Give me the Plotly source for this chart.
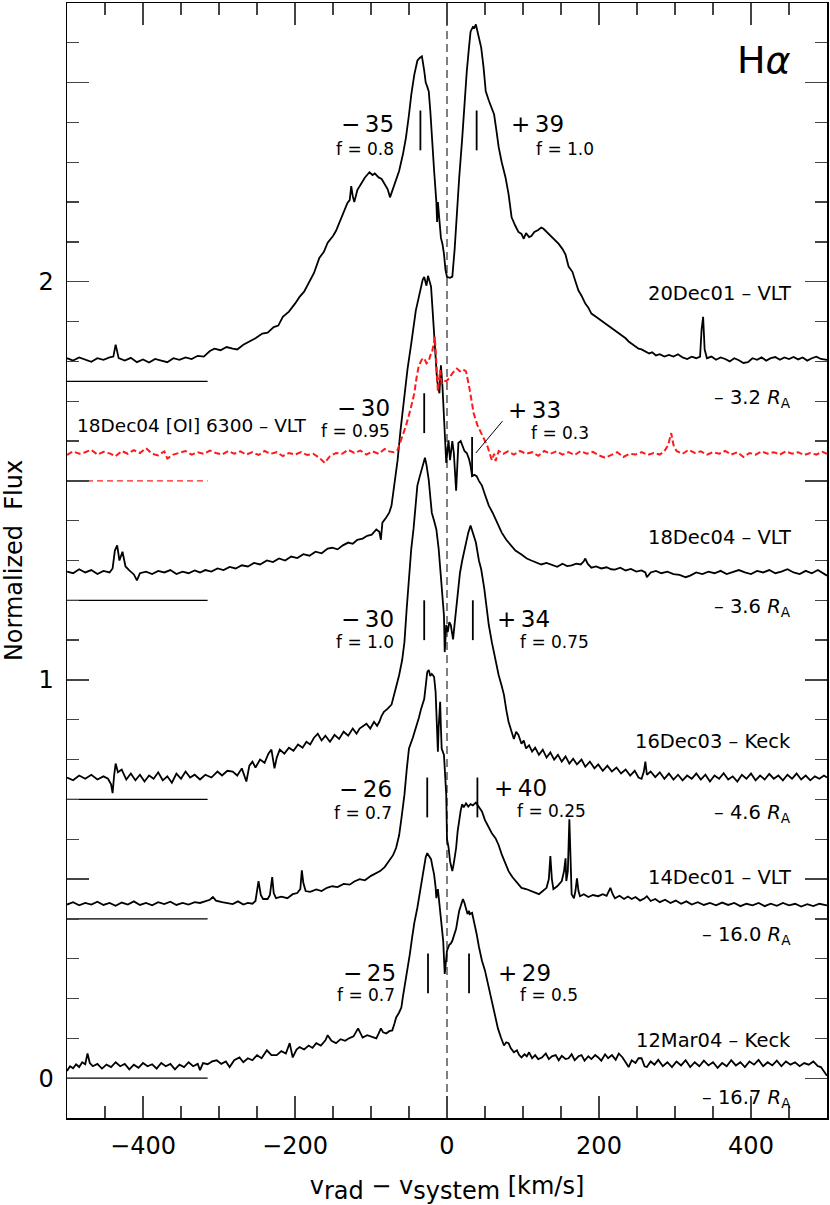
import plotly.graph_objects as go

# ---------------- data (velocity km/s, normalized flux incl. offset) ----------------
spec_20dec01 = [(-500,1.808),(-492,1.802),(-484,1.810),(-476,1.804),(-468,1.799),(-460,1.808),(-452,1.804),(-444,1.810),(-439,1.812),(-436,1.842),(-432,1.808),(-424,1.802),(-416,1.809),(-408,1.798),(-400,1.805),(-392,1.797),(-384,1.806),(-376,1.802),(-368,1.798),(-360,1.808),(-352,1.804),(-344,1.810),(-336,1.806),(-328,1.814),(-320,1.812),(-312,1.826),(-306,1.832),(-298,1.828),(-290,1.836),(-282,1.832),(-276,1.830),(-268,1.842),(-260,1.850),(-252,1.858),(-243,1.870),(-236,1.872),(-228,1.886),(-222,1.890),(-216,1.912),(-208,1.925),(-200,1.945),(-194,1.962),(-188,1.975),(-181,2.000),(-175,2.022),(-168,2.060),(-162,2.075),(-157,2.098),(-150,2.115),(-146,2.128),(-141,2.150),(-136,2.175),(-131,2.198),(-128,2.205),(-126,2.240),(-124,2.215),(-122,2.200),(-118,2.230),(-113,2.245),(-108,2.262),(-102,2.275),(-98,2.268),(-95,2.272),(-90,2.262),(-86,2.258),(-82,2.245),(-78,2.232),(-75,2.212),(-71,2.235),(-67,2.258),(-63,2.278),(-58,2.320),(-54,2.362),(-50,2.420),(-47,2.470),(-43,2.520),(-39,2.555),(-36,2.562),(-33,2.566),(-30,2.530),(-28,2.500),(-26,2.490),(-24,2.478),(-22,2.430),(-20,2.360),(-17,2.280),(-14,2.200),(-13,2.150),(-12,2.200),(-10,2.150),(-8,2.110),(-6,2.095),(-4,2.070),(-2,2.030),(0,2.012),(4,2.010),(7,2.013),(10,2.080),(12,2.150),(16,2.260),(20,2.360),(23,2.450),(26,2.528),(29,2.590),(31,2.628),(34,2.640),(36,2.638),(38,2.646),(41,2.620),(45,2.588),(48,2.540),(51,2.478),(55,2.455),(58,2.440),(62,2.420),(65,2.380),(68,2.338),(72,2.300),(77,2.262),(81,2.220),(85,2.162),(90,2.140),(94,2.125),(98,2.120),(101,2.108),(104,2.122),(108,2.112),(111,2.115),(115,2.125),(120,2.130),(124,2.136),(127,2.133),(131,2.125),(137,2.115),(142,2.105),(147,2.095),(152,2.082),(156,2.068),(160,2.038),(165,2.025),(170,1.995),(173,1.978),(177,1.965),(182,1.945),(186,1.935),(190,1.920),(196,1.912),(201,1.905),(205,1.900),(209,1.895),(214,1.888),(218,1.882),(222,1.875),(226,1.870),(231,1.862),(235,1.858),(239,1.850),(243,1.845),(248,1.838),(252,1.832),(256,1.830),(261,1.825),(266,1.820),(270,1.823),(275,1.815),(280,1.818),(286,1.812),(292,1.816),(298,1.812),(304,1.818),(310,1.810),(316,1.806),(322,1.812),(328,1.808),(333,1.812),(335,1.880),(337,1.912),(339,1.830),(342,1.808),(348,1.812),(354,1.804),(360,1.810),(366,1.806),(372,1.800),(378,1.808),(384,1.803),(390,1.796),(396,1.798),(402,1.808),(408,1.804),(414,1.810),(420,1.802),(426,1.808),(432,1.811),(438,1.804),(444,1.810),(450,1.806),(456,1.811),(462,1.805),(468,1.810),(474,1.802),(480,1.808),(486,1.812),(492,1.806),(500,1.804)]

spec_oi6300 = [(-500,1.565),(-492,1.574),(-484,1.568),(-476,1.572),(-468,1.578),(-460,1.566),(-452,1.573),(-444,1.569),(-436,1.562),(-428,1.575),(-420,1.568),(-412,1.577),(-404,1.570),(-396,1.582),(-388,1.568),(-380,1.564),(-372,1.574),(-368,1.556),(-360,1.566),(-352,1.570),(-344,1.575),(-336,1.566),(-328,1.572),(-320,1.568),(-312,1.576),(-304,1.570),(-296,1.566),(-288,1.575),(-280,1.568),(-272,1.574),(-264,1.566),(-256,1.572),(-248,1.565),(-240,1.575),(-232,1.568),(-224,1.572),(-216,1.562),(-208,1.570),(-200,1.566),(-192,1.572),(-184,1.565),(-176,1.568),(-168,1.558),(-161,1.545),(-154,1.562),(-146,1.570),(-138,1.568),(-130,1.578),(-122,1.570),(-114,1.576),(-106,1.566),(-98,1.574),(-90,1.568),(-82,1.580),(-76,1.574),(-70,1.572),(-65,1.578),(-60,1.605),(-54,1.638),(-48,1.680),(-43,1.720),(-40,1.760),(-37,1.790),(-33,1.805),(-30,1.808),(-27,1.795),(-24,1.800),(-22,1.815),(-20,1.820),(-18,1.840),(-16,1.862),(-15,1.830),(-14,1.795),(-13,1.760),(-12,1.725),(-10,1.760),(-9,1.778),(-7,1.745),(-4,1.752),(-1,1.750),(3,1.758),(7,1.770),(10,1.776),(13,1.782),(17,1.775),(21,1.780),(25,1.775),(27,1.760),(29,1.738),(32,1.705),(35,1.670),(40,1.640),(45,1.620),(49,1.600),(53,1.588),(56,1.570),(59,1.552),(62,1.568),(64,1.550),(68,1.575),(74,1.568),(80,1.574),(88,1.566),(96,1.575),(104,1.568),(112,1.572),(120,1.563),(128,1.575),(136,1.568),(144,1.574),(152,1.566),(160,1.572),(168,1.565),(176,1.575),(184,1.568),(192,1.573),(200,1.564),(208,1.558),(216,1.566),(224,1.572),(232,1.560),(240,1.568),(248,1.566),(256,1.572),(264,1.565),(272,1.570),(280,1.566),(286,1.574),(291,1.590),(295,1.620),(298,1.590),(302,1.575),(310,1.568),(318,1.578),(326,1.570),(334,1.574),(342,1.566),(350,1.572),(358,1.568),(366,1.575),(374,1.566),(382,1.572),(390,1.560),(398,1.570),(406,1.566),(414,1.574),(422,1.568),(430,1.572),(438,1.566),(446,1.574),(454,1.568),(462,1.572),(470,1.565),(478,1.570),(486,1.566),(494,1.573),(500,1.568)]

spec_18dec04 = [(-500,1.272),(-492,1.268),(-484,1.278),(-476,1.270),(-468,1.276),(-460,1.266),(-452,1.274),(-444,1.270),(-440,1.280),(-437,1.325),(-434,1.338),(-431,1.300),(-427,1.322),(-423,1.285),(-418,1.275),(-412,1.265),(-408,1.250),(-404,1.268),(-396,1.272),(-388,1.266),(-380,1.274),(-372,1.270),(-364,1.276),(-356,1.266),(-348,1.272),(-340,1.268),(-332,1.275),(-325,1.270),(-318,1.276),(-310,1.272),(-302,1.280),(-294,1.276),(-286,1.284),(-278,1.280),(-270,1.288),(-262,1.285),(-254,1.294),(-246,1.290),(-237,1.300),(-229,1.296),(-221,1.305),(-213,1.300),(-205,1.310),(-197,1.306),(-189,1.316),(-181,1.312),(-173,1.322),(-165,1.318),(-157,1.330),(-151,1.332),(-144,1.328),(-137,1.338),(-130,1.345),(-124,1.342),(-118,1.352),(-111,1.355),(-105,1.362),(-99,1.365),(-93,1.378),(-89,1.372),(-87,1.352),(-85,1.395),(-80,1.408),(-76,1.420),(-73,1.438),(-69,1.490),(-65,1.552),(-61,1.630),(-56,1.712),(-52,1.780),(-47,1.845),(-44,1.890),(-41,1.928),(-37,1.962),(-34,1.988),(-32,2.005),(-30,2.012),(-28,1.995),(-27,1.990),(-25,2.015),(-23,2.000),(-21,1.988),(-19,1.930),(-17,1.862),(-15,1.800),(-13,1.752),(-10,1.720),(-8,1.790),(-6,1.738),(-4,1.652),(-1,1.545),(2,1.602),(4,1.552),(7,1.600),(9,1.570),(12,1.475),(15,1.595),(18,1.600),(20,1.588),(23,1.575),(26,1.570),(29,1.555),(31,1.538),(33,1.512),(36,1.515),(39,1.512),(42,1.500),(46,1.488),(50,1.465),(55,1.438),(60,1.420),(64,1.402),(68,1.385),(72,1.370),(78,1.352),(84,1.338),(90,1.325),(98,1.315),(105,1.305),(111,1.300),(117,1.295),(124,1.290),(131,1.294),(138,1.288),(145,1.284),(152,1.292),(158,1.286),(164,1.288),(170,1.292),(176,1.290),(180,1.298),(182,1.305),(185,1.292),(190,1.282),(196,1.285),(203,1.280),(210,1.283),(216,1.278),(221,1.277),(228,1.282),(235,1.275),(242,1.279),(249,1.272),(256,1.275),(261,1.270),(263,1.258),(268,1.270),(275,1.274),(282,1.268),(290,1.272),(298,1.266),(306,1.264),(314,1.258),(320,1.262),(328,1.270),(336,1.266),(344,1.272),(352,1.268),(360,1.274),(368,1.266),(376,1.272),(384,1.276),(392,1.270),(400,1.266),(408,1.274),(416,1.270),(424,1.276),(432,1.268),(440,1.272),(448,1.278),(456,1.270),(464,1.266),(472,1.274),(480,1.268),(488,1.276),(494,1.270),(500,1.262)]

spec_16dec03 = [(-500,0.755),(-492,0.748),(-484,0.760),(-476,0.752),(-468,0.762),(-460,0.750),(-452,0.758),(-446,0.752),(-442,0.738),(-440,0.716),(-438,0.760),(-436,0.790),(-433,0.768),(-428,0.775),(-422,0.750),(-416,0.765),(-410,0.748),(-404,0.762),(-398,0.745),(-392,0.760),(-386,0.752),(-380,0.768),(-374,0.748),(-368,0.758),(-362,0.742),(-356,0.765),(-350,0.752),(-344,0.770),(-338,0.755),(-332,0.762),(-325,0.750),(-318,0.762),(-310,0.755),(-302,0.770),(-296,0.760),(-289,0.772),(-282,0.770),(-276,0.760),(-270,0.778),(-264,0.745),(-260,0.785),(-256,0.795),(-252,0.780),(-246,0.800),(-240,0.792),(-235,0.815),(-231,0.825),(-227,0.778),(-224,0.805),(-220,0.825),(-214,0.815),(-208,0.830),(-202,0.822),(-196,0.838),(-190,0.830),(-185,0.845),(-180,0.838),(-175,0.855),(-170,0.865),(-165,0.848),(-160,0.860),(-154,0.845),(-148,0.862),(-142,0.852),(-136,0.870),(-130,0.860),(-124,0.878),(-119,0.865),(-115,0.878),(-110,0.885),(-106,0.890),(-101,0.878),(-96,0.895),(-92,0.885),(-89,0.895),(-86,0.910),(-83,0.920),(-78,0.928),(-73,0.938),(-68,0.975),(-63,1.012),(-59,1.050),(-56,1.095),(-53,1.180),(-50,1.262),(-47,1.330),(-44,1.380),(-41,1.440),(-39,1.488),(-36,1.510),(-33,1.530),(-31,1.548),(-29,1.558),(-27,1.540),(-24,1.502),(-22,1.460),(-20,1.420),(-17,1.400),(-14,1.378),(-11,1.330),(-8,1.262),(-6,1.210),(-4,1.162),(-3,1.070),(-1,1.138),(1,1.120),(3,1.145),(5,1.138),(8,1.102),(10,1.140),(12,1.178),(15,1.230),(17,1.268),(20,1.300),(23,1.330),(25,1.345),(28,1.370),(31,1.388),(34,1.370),(38,1.345),(42,1.300),(45,1.278),(49,1.230),(52,1.185),(55,1.138),(59,1.095),(63,1.055),(68,1.012),(72,0.985),(75,0.962),(78,0.925),(81,0.895),(85,0.870),(88,0.852),(91,0.870),(94,0.862),(98,0.840),(101,0.848),(104,0.828),(108,0.836),(112,0.820),(116,0.830),(121,0.812),(126,0.825),(131,0.805),(136,0.818),(141,0.800),(146,0.812),(151,0.795),(156,0.808),(161,0.790),(166,0.802),(171,0.788),(177,0.800),(182,0.782),(188,0.795),(194,0.778),(199,0.788),(205,0.772),(211,0.785),(217,0.770),(223,0.780),(229,0.765),(235,0.775),(241,0.760),(247,0.772),(252,0.755),(256,0.752),(259,0.770),(261,0.795),(263,0.762),(268,0.770),(274,0.756),(280,0.768),(286,0.752),(292,0.765),(298,0.750),(304,0.762),(310,0.748),(316,0.760),(322,0.752),(328,0.765),(334,0.750),(340,0.762),(346,0.745),(352,0.760),(358,0.752),(364,0.766),(370,0.750),(376,0.758),(382,0.745),(388,0.762),(394,0.752),(400,0.765),(406,0.748),(412,0.760),(418,0.750),(424,0.764),(430,0.752),(436,0.760),(442,0.748),(448,0.762),(454,0.752),(460,0.765),(466,0.750),(472,0.760),(478,0.748),(484,0.758),(490,0.752),(496,0.760),(500,0.755)]

spec_14dec01 = [(-500,0.436),(-492,0.442),(-484,0.434),(-476,0.440),(-468,0.436),(-460,0.443),(-452,0.435),(-444,0.440),(-436,0.433),(-428,0.441),(-420,0.436),(-412,0.444),(-404,0.435),(-396,0.440),(-388,0.434),(-380,0.442),(-372,0.437),(-364,0.443),(-356,0.435),(-348,0.440),(-340,0.436),(-332,0.442),(-325,0.440),(-318,0.445),(-312,0.448),(-308,0.455),(-304,0.446),(-296,0.442),(-289,0.440),(-282,0.437),(-275,0.444),(-268,0.436),(-262,0.440),(-256,0.438),(-252,0.445),(-248,0.495),(-245,0.460),(-242,0.450),(-236,0.450),(-233,0.460),(-230,0.505),(-228,0.465),(-225,0.452),(-218,0.456),(-210,0.452),(-203,0.462),(-197,0.465),(-193,0.475),(-191,0.522),(-189,0.490),(-186,0.470),(-180,0.468),(-172,0.474),(-165,0.470),(-158,0.478),(-151,0.482),(-144,0.480),(-136,0.488),(-128,0.486),(-122,0.494),(-115,0.500),(-108,0.497),(-100,0.508),(-93,0.515),(-88,0.520),(-82,0.530),(-76,0.545),(-71,0.560),(-67,0.578),(-63,0.610),(-60,0.652),(-56,0.712),(-53,0.775),(-50,0.828),(-45,0.855),(-41,0.878),(-37,0.905),(-34,0.928),(-30,0.952),(-28,0.985),(-26,1.020),(-24,1.025),(-22,1.010),(-20,1.015),(-17,1.008),(-15,0.970),(-14,0.928),(-12,0.820),(-11,0.880),(-9,0.945),(-8,0.880),(-7,0.828),(-4,0.812),(-2,0.760),(-1,0.712),(0,0.600),(2,0.580),(4,0.545),(7,0.520),(9,0.540),(12,0.578),(14,0.620),(16,0.652),(18,0.672),(20,0.688),(22,0.680),(25,0.690),(28,0.682),(31,0.688),(34,0.685),(38,0.692),(42,0.680),(46,0.670),(50,0.648),(55,0.628),(59,0.615),(64,0.602),(68,0.585),(72,0.562),(76,0.542),(81,0.520),(86,0.505),(90,0.495),(94,0.485),(98,0.478),(104,0.475),(111,0.470),(116,0.466),(121,0.462),(126,0.470),(131,0.478),(134,0.500),(136,0.558),(138,0.500),(140,0.475),(145,0.482),(151,0.495),(154,0.520),(156,0.552),(157,0.495),(159,0.520),(161,0.650),(163,0.500),(164,0.462),(167,0.452),(169,0.470),(171,0.502),(173,0.470),(175,0.457),(180,0.462),(186,0.455),(192,0.460),(199,0.457),(205,0.462),(210,0.458),(213,0.470),(215,0.478),(218,0.462),(221,0.452),(227,0.458),(233,0.450),(238,0.456),(243,0.450),(248,0.455),(254,0.446),(260,0.452),(263,0.457),(268,0.445),(274,0.450),(280,0.442),(287,0.448),(294,0.440),(301,0.446),(308,0.438),(315,0.444),(322,0.436),(330,0.442),(338,0.435),(346,0.440),(354,0.434),(362,0.441),(370,0.435),(378,0.440),(386,0.432),(394,0.438),(402,0.434),(410,0.440),(418,0.432),(426,0.438),(434,0.433),(442,0.440),(450,0.434),(458,0.438),(466,0.431),(474,0.437),(482,0.432),(490,0.438),(500,0.434)]

spec_12mar04 = [(-500,0.018),(-496,0.030),(-492,0.025),(-488,0.035),(-484,0.028),(-480,0.040),(-476,0.035),(-473,0.062),(-470,0.038),(-466,0.030),(-460,0.036),(-454,0.024),(-448,0.034),(-442,0.028),(-436,0.040),(-430,0.030),(-424,0.036),(-418,0.022),(-412,0.034),(-406,0.026),(-400,0.038),(-394,0.030),(-388,0.035),(-382,0.024),(-376,0.038),(-370,0.030),(-364,0.036),(-358,0.022),(-352,0.034),(-346,0.028),(-340,0.040),(-334,0.030),(-328,0.036),(-325,0.020),(-321,0.038),(-315,0.035),(-309,0.042),(-303,0.045),(-297,0.036),(-291,0.042),(-286,0.028),(-280,0.045),(-273,0.052),(-268,0.040),(-262,0.050),(-256,0.045),(-250,0.058),(-244,0.050),(-237,0.070),(-231,0.058),(-224,0.058),(-218,0.068),(-212,0.062),(-207,0.088),(-203,0.052),(-198,0.072),(-194,0.078),(-188,0.072),(-182,0.082),(-177,0.076),(-172,0.088),(-166,0.082),(-160,0.095),(-157,0.108),(-152,0.094),(-146,0.088),(-140,0.098),(-134,0.094),(-129,0.100),(-123,0.105),(-117,0.125),(-113,0.110),(-111,0.102),(-105,0.108),(-99,0.104),(-93,0.100),(-90,0.112),(-87,0.125),(-84,0.115),(-80,0.112),(-76,0.118),(-72,0.120),(-69,0.138),(-67,0.152),(-63,0.165),(-60,0.178),(-58,0.205),(-56,0.228),(-54,0.250),(-52,0.270),(-49,0.310),(-46,0.352),(-43,0.390),(-39,0.428),(-36,0.465),(-33,0.502),(-30,0.530),(-28,0.555),(-26,0.565),(-24,0.560),(-21,0.550),(-19,0.530),(-17,0.512),(-15,0.480),(-14,0.452),(-12,0.475),(-10,0.440),(-8,0.402),(-6,0.370),(-5,0.345),(-3,0.262),(-1,0.300),(0,0.320),(3,0.335),(5,0.338),(7,0.345),(8,0.350),(10,0.362),(12,0.375),(14,0.398),(16,0.420),(19,0.438),(21,0.450),(23,0.440),(25,0.425),(27,0.412),(29,0.420),(30,0.412),(33,0.415),(36,0.392),(39,0.362),(42,0.330),(46,0.295),(50,0.270),(53,0.245),(56,0.215),(59,0.188),(62,0.165),(64,0.145),(67,0.125),(71,0.102),(73,0.092),(75,0.082),(78,0.090),(81,0.088),(84,0.075),(88,0.065),(92,0.070),(95,0.058),(98,0.052),(102,0.060),(105,0.055),(108,0.065),(112,0.050),(116,0.058),(120,0.048),(125,0.052),(130,0.062),(134,0.048),(138,0.055),(143,0.058),(147,0.045),(151,0.056),(156,0.048),(160,0.050),(164,0.060),(168,0.045),(173,0.055),(177,0.058),(181,0.044),(186,0.055),(190,0.048),(195,0.058),(199,0.052),(203,0.044),(208,0.060),(212,0.050),(217,0.058),(222,0.046),(226,0.062),(231,0.052),(235,0.040),(239,0.028),(243,0.045),(248,0.038),(252,0.050),(256,0.050),(260,0.030),(263,0.028),(268,0.042),(273,0.034),(278,0.046),(284,0.030),(290,0.040),(296,0.028),(302,0.042),(308,0.032),(314,0.045),(320,0.028),(326,0.040),(332,0.030),(338,0.044),(344,0.032),(350,0.040),(356,0.026),(362,0.038),(368,0.030),(374,0.045),(380,0.032),(386,0.040),(392,0.028),(398,0.042),(404,0.034),(410,0.046),(416,0.030),(422,0.040),(428,0.032),(434,0.044),(440,0.030),(446,0.042),(452,0.034),(458,0.040),(464,0.030),(470,0.038),(476,0.034),(482,0.042),(488,0.030),(492,0.028),(496,0.018),(500,0.006)]

# offset reference levels (short lines at left)
baseline_levels = [1.75, 1.2, 0.7, 0.4, 0.0]
oi_baseline_level = 1.5
baseline_v = [-500, -315]

# peak velocity markers: (velocity, bottom, top)
peak_markers = [(-35, 2.33, 2.43), (39, 2.33, 2.43),
                (-30, 1.62, 1.72), (33, 1.51, 1.61),
                (-30, 1.10, 1.20), (34, 1.10, 1.20),
                (-26, 0.655, 0.755), (40, 0.655, 0.755),
                (-25, 0.213, 0.313), (29, 0.213, 0.313)]
leader_v = [38, 73]
leader_f = [1.57, 1.65]

# axis ticks
x_major = [-400, -200, 0, 200, 400]
y_labelled = [0, 1, 2]
y_half = [0.5, 1.5, 2.5]

# big velocity labels (text, v, f, anchor)
vel_labels = [("−\u200935", -67, 2.395, "right"), ("+\u200939", 81, 2.395, "left"),
              ("−\u200930", -72, 1.683, "right"), ("+\u200933", 77, 1.678, "left"),
              ("−\u200930", -67, 1.153, "right"), ("+\u200934", 63, 1.153, "left"),
              ("−\u200926", -70, 0.725, "right"), ("+\u200940", 59, 0.728, "left"),
              ("−\u200925", -64, 0.265, "right"), ("+\u200929", 64, 0.265, "left")]
f_labels = [("f = 0.8", -67, 2.333, "right"), ("f = 1.0", 114, 2.333, "left"),
            ("f = 0.95", -72, 1.625, "right"), ("f = 0.3", 108, 1.620, "left"),
            ("f = 1.0", -67, 1.095, "right"), ("f = 0.75", 94, 1.095, "left"),
            ("f = 0.7", -70, 0.665, "right"), ("f = 0.25", 90, 0.670, "left"),
            ("f = 0.7", -66, 0.208, "right"), ("f = 0.5", 94, 0.208, "left")]
obs_labels = [("20Dec01 – VLT", 1.970), ("18Dec04 – VLT", 1.358), ("16Dec03 – Keck", 0.845),
              ("14Dec01 – VLT", 0.505), ("12Mar04 – Keck", 0.095)]
ra_labels = [("– 3.2", 1.708), ("– 3.6", 1.183), ("– 4.6", 0.665), ("– 16.0", 0.358), ("– 16.7", -0.050)]

FONT = "DejaVu Sans, Liberation Sans, Arial, sans-serif"

fig = go.Figure()

# zero velocity dashed line
fig.add_trace(go.Scatter(x=[0, 0], y=[-0.1, 2.7], mode="lines",
                         line=dict(color="#555555", width=1.5, dash="8px,5px"), hoverinfo="skip"))

# baseline ticks
for lv in baseline_levels:
    fig.add_trace(go.Scatter(x=baseline_v, y=[lv, lv], mode="lines",
                             line=dict(color="black", width=1.2), hoverinfo="skip"))
fig.add_trace(go.Scatter(x=baseline_v, y=[oi_baseline_level] * 2, mode="lines",
                         line=dict(color="#ff2020", width=1.2, dash="6px,4px"), hoverinfo="skip"))

for spec in [spec_20dec01, spec_18dec04, spec_16dec03, spec_14dec01, spec_12mar04]:
    fig.add_trace(go.Scatter(x=[p[0] for p in spec], y=[p[1] for p in spec], mode="lines",
                             line=dict(color="black", width=1.8)))
fig.add_trace(go.Scatter(x=[p[0] for p in spec_oi6300], y=[p[1] for p in spec_oi6300], mode="lines",
                         line=dict(color="#ff1a1a", width=2, dash="6px,3px")))

# peak markers
mx, my = [], []
for v, b, t in peak_markers:
    mx += [v, v, None]
    my += [b, t, None]
fig.add_trace(go.Scatter(x=mx, y=my, mode="lines", line=dict(color="black", width=1.8), hoverinfo="skip"))
fig.add_trace(go.Scatter(x=leader_v, y=leader_f, mode="lines", line=dict(color="black", width=1), hoverinfo="skip"))

# dummy trace for the overlay axis carrying the unlabelled half-unit major ticks
fig.add_trace(go.Scatter(x=[None], y=[None], yaxis="y2", mode="lines", hoverinfo="skip"))

ann = []
for txt, v, f, a in vel_labels:
    ann.append(dict(x=v, y=f, text=txt, xanchor=a, yanchor="middle", showarrow=False,
                    font=dict(size=23, color="black", family=FONT)))
for txt, v, f, a in f_labels:
    ann.append(dict(x=v, y=f, text=txt, xanchor=a, yanchor="middle", showarrow=False,
                    font=dict(size=17, color="black", family=FONT)))
for txt, f in obs_labels:
    ann.append(dict(x=455, y=f, text=txt, xanchor="right", yanchor="middle", showarrow=False,
                    font=dict(size=19.5, color="black", family=FONT)))
for txt, f in ra_labels:
    ann.append(dict(x=455, y=f, text=txt + " <i>R</i><sub>A</sub>", xanchor="right", yanchor="middle",
                    showarrow=False, font=dict(size=19.5, color="black", family=FONT)))
ann.append(dict(x=-489, y=1.640, text="18Dec04 [OI] 6300 – VLT", xanchor="left", yanchor="middle",
                showarrow=False, font=dict(size=18.5, color="black", family=FONT)))
ann.append(dict(x=455, y=2.557, text="H<i>α</i>", xanchor="right", yanchor="middle",
                showarrow=False, font=dict(size=38, color="black", family=FONT)))

TICKC = "#444444"
axis_common = dict(showline=True, linecolor="black", linewidth=1.5, mirror="ticks",
                   ticks="inside", tickcolor=TICKC, tickwidth=1.3, ticklen=22,
                   showgrid=False, zeroline=False,
                   tickfont=dict(size=24, color="black", family=FONT))

fig.update_layout(
    width=830, height=1205,
    margin=dict(l=67, r=1, t=1, b=87),
    paper_bgcolor="white", plot_bgcolor="white",
    showlegend=False,
    hovermode=False,
    annotations=ann,
    xaxis=dict(range=[-500, 500], tickmode="array", tickvals=x_major,
               minor=dict(dtick=50, tick0=0, ticks="inside", ticklen=12, tickcolor=TICKC, tickwidth=1.3),
               ticklabelstandoff=6,
               title=dict(text="v<sub><span style=\"font-size:24px\">rad</span></sub> − "
                               "v<sub><span style=\"font-size:24px\">system</span></sub> [km/s]",
                          font=dict(size=24, color="black", family=FONT), standoff=20),
               **axis_common),
    yaxis=dict(range=[-0.1, 2.7], tickmode="array", tickvals=y_labelled,
               minor=dict(dtick=0.1, tick0=0, ticks="inside", ticklen=12, tickcolor=TICKC, tickwidth=1.3),
               ticklabelstandoff=7,
               title=dict(text="Normalized&nbsp; Flux",
                          font=dict(size=24, color="black", family=FONT), standoff=16),
               **axis_common),
    yaxis2=dict(range=[-0.1, 2.7], overlaying="y", anchor="x", side="left",
                tickmode="array", tickvals=y_half, showticklabels=False,
                ticks="inside", tickcolor=TICKC, tickwidth=1.3, ticklen=22, mirror="ticks",
                showline=False, showgrid=False, zeroline=False),
)

fig.write_html("out.html",
               config={"displayModeBar": False, "staticPlot": True},
               post_script="document.body.style.margin='0';document.body.style.overflow='hidden';")
